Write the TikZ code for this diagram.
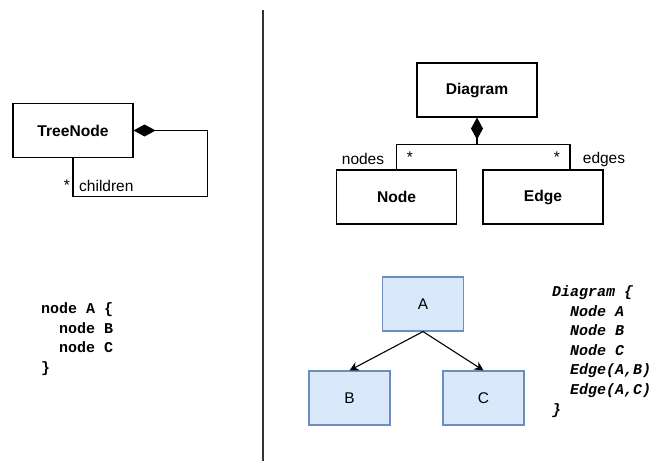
\documentclass[tikz,border=0pt]{standalone}
\usepackage{fontspec}
\setmainfont{Liberation Sans}
\setmonofont{Liberation Mono}
\usetikzlibrary{arrows.meta}
\definecolor{boxblue}{HTML}{DAE8FC}
\definecolor{lineblue}{HTML}{6C8EBF}
\tikzset{
  umlclass/.style={draw, line width=1.1pt, fill=white, minimum width=120pt, minimum height=54pt, font=\fontsize{15.6}{18}\selectfont\bfseries, inner sep=0pt},
  treebox/.style={draw=lineblue, line width=1.1pt, fill=boxblue, minimum width=81pt, minimum height=54pt, font=\fontsize{15.5}{18}\selectfont, inner sep=0pt},
  assoc/.style={line width=1.1pt},
  comp/.style={assoc, {Diamond[length=22pt,width=12pt]}-},
  link/.style={line width=1.1pt, -{Stealth[length=9pt,width=9pt]}},
  lbl/.style={font=\fontsize{15.5}{18}\selectfont, inner sep=0pt},
  codebox/.style={align=left, inner sep=0pt, anchor=north west, font=\fontsize{15}{19.6}\selectfont\ttfamily\bfseries}
}
\begin{document}
\begin{tikzpicture}[x=1pt,y=-1pt]
\useasboundingbox (0,0) rectangle (654,461);

% separator
\draw[line width=2.2pt, black!80] (262.7,10) coordinate (sepa) -- (262.7,461) coordinate (sepb);

% left: recursive composition
\node[umlclass] (tn) at (73,130.5) {TreeNode};
\draw[comp] (tn.east) -- ++(74,0) -- ++(0,66) -| (tn.south);
\node[lbl, anchor=west] (ch) at (79,186) {children};
\node[lbl] (chm) at (67,185) {*};

\node[codebox] (code1) at (41,302.5) {node A \{\\
\ \ node B\\
\ \ node C\\
\}};

% right: Diagram owns Nodes and Edges
\node[umlclass] (dg) at (477,90) {Diagram};
\node[umlclass] (nd) at (396.5,197) {Node};
\node[umlclass] (ed) at (543,197) {Edge};
\draw[comp] (dg.south) -- ++(0,27) coordinate (fork) -| (nd.north);
\draw[assoc] (fork) -| ([xshift=27pt]ed.north);
\node[lbl] (ndl) at (363,159) {nodes};
\node[lbl] (ndm) at (410,157) {*};
\node[lbl] (edm) at (557,157) {*};
\node[lbl] (edl) at (604,159) {edges};

% right: example instance
\node[treebox] (a) at (423,304) {A};
\node[treebox] (b) at (349.5,398) {B};
\node[treebox] (c) at (483.5,398) {C};
\draw[link] (a.south) -- (b.north);
\draw[link] (a.south) -- (c.north);

\node[codebox, font=\fontsize{15}{19.6}\selectfont\ttfamily\bfseries\itshape] (code2) at (552,285.5) {Diagram \{\\
\ \ Node A\\
\ \ Node B\\
\ \ Node C\\
\ \ Edge(A,B)\\
\ \ Edge(A,C)\\
\}};
\end{tikzpicture}
\end{document}
